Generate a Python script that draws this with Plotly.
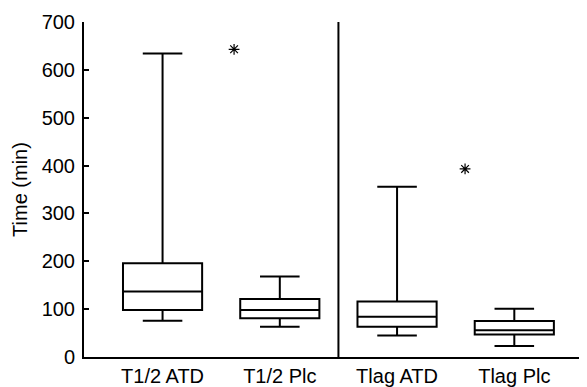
import plotly.graph_objects as go

categories = ["T1/2 ATD", "T1/2 Plc", "Tlag ATD", "Tlag Plc"]
positions = [0, 1, 2, 3]
lower_whisker = [76, 63, 45, 23]
q1 = [98, 81, 63, 47]
median = [137, 98, 84, 56]
q3 = [196, 121, 116, 75]
upper_whisker = [634, 168, 356, 101]

outlier_x = [0.61, 2.58]
outlier_y = [643, 393]

y_ticks = [0, 100, 200, 300, 400, 500, 600, 700]

fig = go.Figure()
fig.add_trace(go.Box(
    x=positions,
    q1=q1, median=median, q3=q3,
    lowerfence=lower_whisker, upperfence=upper_whisker,
    width=0.675, whiskerwidth=0.5,
    fillcolor="white",
    line=dict(color="black", width=2),
    boxpoints=False,
    hoverinfo="skip",
))
fig.add_trace(go.Scatter(
    x=outlier_x, y=outlier_y, mode="markers",
    marker=dict(symbol="asterisk-open", size=9, color="black",
                line=dict(color="black", width=1.2)),
    hoverinfo="skip",
))

fig.add_shape(type="line", xref="x", yref="y", x0=1.5, x1=1.5, y0=0, y1=700,
              line=dict(color="black", width=2))

fig.update_layout(
    width=579, height=379,
    margin=dict(l=76, r=0, t=14, b=28),
    paper_bgcolor="white", plot_bgcolor="white",
    showlegend=False,
    font=dict(family="Liberation Sans, Arial, sans-serif", size=20, color="black"),
)
fig.update_xaxes(
    range=[-0.67, 3.62],
    tickvals=positions, ticktext=categories,
    showline=True, linecolor="black", linewidth=2,
    showgrid=False, zeroline=False, ticks="",
    tickfont=dict(size=20),
)
fig.update_yaxes(
    range=[0, 700],
    tickvals=y_ticks,
    showline=True, linecolor="black", linewidth=2,
    showgrid=False, zeroline=False,
    ticks="inside", ticklen=5, tickwidth=2, tickcolor="black",
    tickfont=dict(size=20), ticklabelstandoff=3,
    title=dict(text="Time (min)", font=dict(size=20), standoff=9),
)

fig.write_html("out.html")
